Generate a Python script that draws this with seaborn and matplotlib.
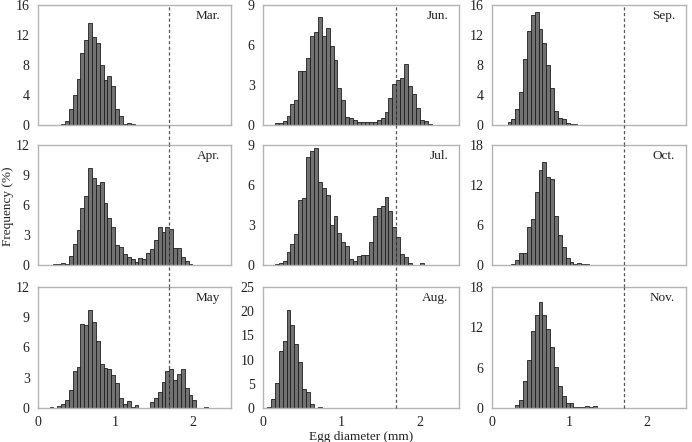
import numpy as np
import pandas as pd
import matplotlib
matplotlib.use("Agg")
import matplotlib.pyplot as plt
import seaborn as sns

# ---------------- data (frequency %, 0.05 mm bins) ----------------
BIN = 0.05
months = ["Mar.", "Jun.", "Sep.", "Apr.", "Jul.", "Oct.", "May", "Aug.", "Nov."]

mar_start = 0.30
mar_freq = [0.1, 0.5, 2.1, 4.0, 6.2, 9.6, 11.4, 13.6, 11.8, 10.9, 8.0, 6.0, 6.5,
            5.2, 2.2, 1.2, 0.15, 0.3, 0.1]

jun_start = 0.15
jun_freq = [0.12, 0.18, 0.3, 0.7, 1.6, 1.9, 4.05, 4.05, 5.05, 6.7, 6.95, 8.1, 6.7,
            7.3, 5.9, 4.9, 2.75, 1.9, 0.6, 0.5, 0.38, 0.25, 0.2, 0.2, 0.25, 0.25,
            0.35, 0.5, 1.0, 2.05, 3.1, 3.4, 3.55, 4.6, 2.9, 2.3, 1.25, 0.4, 0.3, 0.1]

sep_start = 0.20
sep_freq = [0.35, 0.75, 2.2, 4.35, 8.75, 12.5, 14.7, 15.1, 12.75, 11.0, 8.0, 4.9,
            1.9, 0.9, 0.8, 0.3, 0.15, 0.08, 0.05, 0.05]

apr_start = 0.20
apr_freq = [0.07, 0.13, 0.17, 0.1, 0.93, 2.1, 3.5, 5.75, 6.9, 9.67, 8.7, 8.0, 8.3,
            6.2, 4.67, 3.77, 2.0, 1.77, 1.1, 0.83, 0.6, 0.33, 0.67, 0.6, 1.17, 1.57,
            2.5, 3.83, 3.33, 3.77, 3.63, 1.67, 1.67, 0.83, 0.43, 0.1]

jul_start = 0.15
jul_freq = [0.08, 0.13, 0.33, 0.95, 1.55, 2.35, 4.9, 5.0, 8.1, 8.55, 8.8, 6.2, 5.8,
            5.25, 3.0, 3.7, 2.4, 1.75, 1.43, 0.45, 0.33, 0.68, 0.78, 0.78, 1.7, 3.7,
            4.25, 4.43, 5.13, 4.05, 2.83, 2.13, 0.8, 0.58, 0.13, 0.0, 0.0, 0.12]

oct_start = 0.25
oct_freq = [0.15, 0.75, 1.75, 1.75, 5.65, 6.9, 10.9, 14.25, 15.5, 13.25, 12.9, 7.35,
            4.5, 2.65, 1.0, 0.5, 0.15, 0.25, 0.2, 0.1, 0.05]

may_start = 0.15
may_freq = [0.07, 0.0, 0.17, 0.36, 0.76, 1.82, 3.64, 4.07, 8.3, 8.2, 9.75, 8.5, 6.6,
            4.33, 4.0, 3.9, 3.24, 2.5, 1.0, 0.36, 0.7, 0.1, 0.26, 0.0, 0.0, 0.0,
            0.56, 1.0, 1.59, 2.58, 3.64, 3.9, 2.8, 3.4, 3.9, 1.98, 1.26, 0.76, 0.0,
            0.0, 0.07]

aug_start = 0.05
aug_freq = [0.28, 1.79, 5.17, 11.8, 13.8, 20.2, 17.2, 13.2, 9.5, 4.0, 3.3, 0.9,
            0.0, 0.2]

nov_start = 0.30
nov_freq = [0.45, 1.2, 4.0, 7.1, 11.4, 13.8, 15.7, 13.8, 11.8, 9.1, 6.1, 3.3, 1.8,
            0.8, 0.7, 0.2, 0.2, 0.1, 0.3, 0.1, 0.3]

starts = [mar_start, jun_start, sep_start, apr_start, jul_start, oct_start,
          may_start, aug_start, nov_start]
freqs = [mar_freq, jun_freq, sep_freq, apr_freq, jul_freq, oct_freq,
         may_freq, aug_freq, nov_freq]

y_limits = [16, 9, 16, 12, 9, 18, 12, 25, 18]
y_ticks = [[0, 4, 8, 12, 16], [0, 3, 6, 9], [0, 4, 8, 12, 16],
           [0, 3, 6, 9, 12], [0, 3, 6, 9], [0, 6, 12, 18],
           [0, 3, 6, 9, 12], [0, 5, 10, 15, 20, 25], [0, 6, 12, 18]]
x_ticks = [0, 1, 2]
threshold = 1.7

# ---------------- styling ----------------
sns.set_theme(style="white")
plt.rcParams["font.family"] = ["Liberation Serif", "DejaVu Serif"]
plt.rcParams["font.size"] = 9

W, H = 692, 442
fig = plt.figure(figsize=(W / 100, H / 100), dpi=100)

col_left = [38, 263, 492]
col_width = [193, 196, 194]
row_top = [5, 145, 287]
row_height = [120, 120, 121]

for i in range(9):
    r, c = divmod(i, 3)
    l, w = col_left[c], col_width[c]
    t, h = row_top[r], row_height[r]
    ax = fig.add_axes([l / W, 1 - (t + h) / H, w / W, h / H])

    f = np.array(freqs[i], dtype=float)
    lefts = starts[i] + BIN * np.arange(len(f))
    df = pd.DataFrame({"diameter": lefts + BIN / 2, "freq": f})
    df = df[df["freq"] > 0]
    sns.histplot(data=df, x="diameter", weights="freq", binwidth=BIN,
                 binrange=(0, 2.5), ax=ax,
                 color="#727272", edgecolor="#1e1e1e", linewidth=0.6, alpha=1.0)

    ax.set_xlim(0, 2.5)
    ax.set_ylim(0, y_limits[i])
    ax.set_yticks(y_ticks[i])
    ax.set_xticks(x_ticks)
    ax.set_xlabel("")
    ax.set_ylabel("")
    if r < 2:
        ax.set_xticklabels([])
    for s in ax.spines.values():
        s.set_color("#b4b4b4")
        s.set_linewidth(1.0)
    ax.tick_params(axis="both", length=0, labelsize=10, colors="#222222", pad=6)

    ymin = -0.17 if r == 0 else (-0.185 if r == 1 else 0.0)
    ax.axvline(threshold, ymin=ymin, ymax=1.0, color="#555555", lw=0.9,
               ls=(0, (2.5, 2)), clip_on=False, zorder=5)

    ax.text(0.945, 0.91, months[i], transform=ax.transAxes, ha="right",
            va="center", fontsize=9.5, color="#222222")

fig.text(8 / W, 1 - 206 / H, "Frequency (%)", rotation=90, ha="center",
         va="center", fontsize=9.5, color="#222222")
fig.text(361 / W, 1 - 437 / H, "Egg diameter (mm)", ha="center", va="center",
         fontsize=9.5, color="#222222")

fig.savefig("out.png", dpi=100)
